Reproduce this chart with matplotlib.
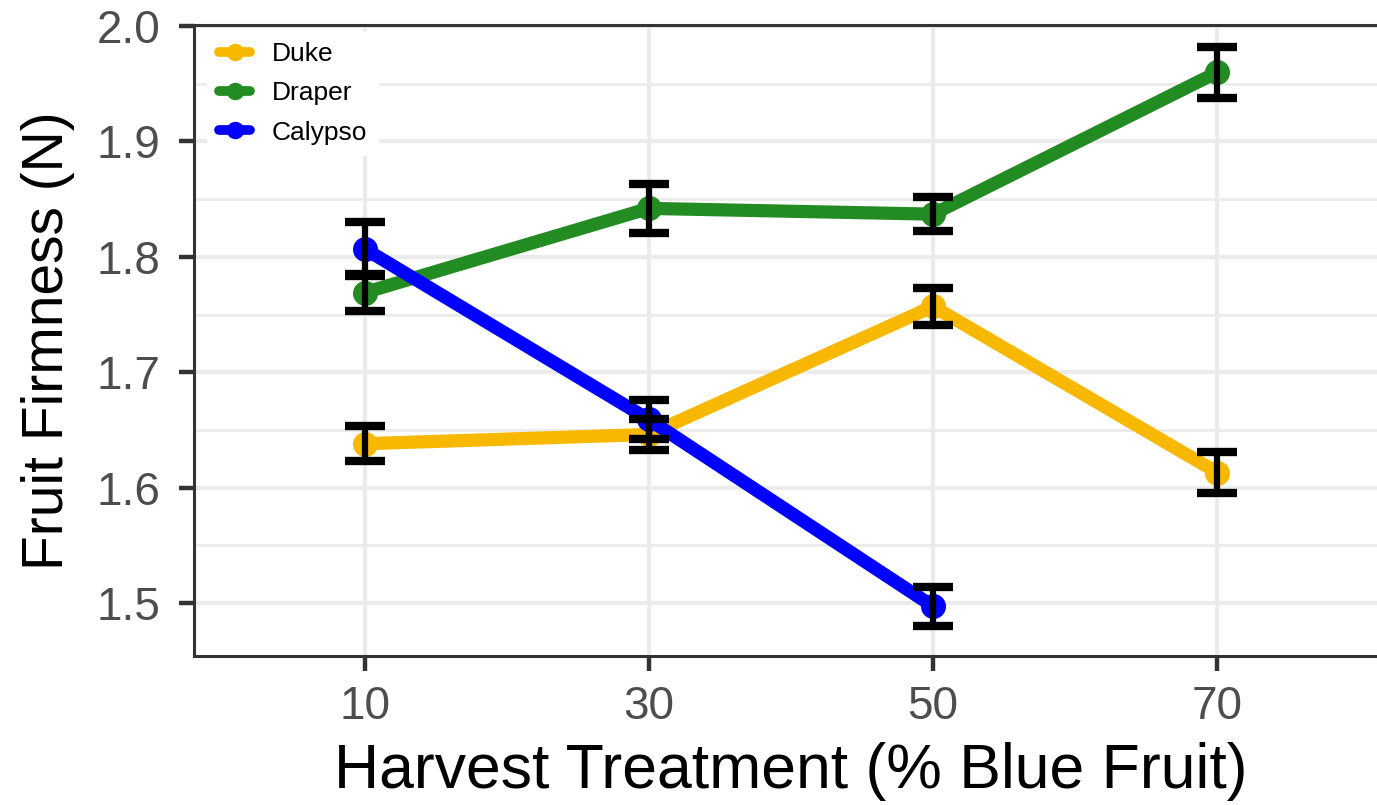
import matplotlib
matplotlib.use("Agg")
import matplotlib.pyplot as plt
from matplotlib.ticker import MultipleLocator

plt.rcParams["font.family"] = ["Liberation Sans", "DejaVu Sans"]

# datos
tratamientos = [10, 30, 50, 70]
variedades = ["Duke", "Draper", "Calypso"]
colores = ["#F9B800", "#228B22", "#0000FF"]

duke_media = [1.638, 1.646, 1.757, 1.613]
duke_err = [0.015, 0.0135, 0.016, 0.018]

draper_media = [1.769, 1.842, 1.837, 1.960]
draper_err = [0.016, 0.021, 0.015, 0.022]

calypso_x = [10, 30, 50]
calypso_media = [1.807, 1.659, 1.497]
calypso_err = [0.0235, 0.017, 0.017]

series = [
    (tratamientos, duke_media, duke_err),
    (tratamientos, draper_media, draper_err),
    (calypso_x, calypso_media, calypso_err),
]

fig = plt.figure(figsize=(13.77, 8.05), dpi=100)
ax = fig.add_axes([0.1409, 0.1851, 0.867, 0.7839])

# lineas
for nombre, color, (x, y, e) in zip(variedades, colores, series):
    ax.plot(x, y, color=color, lw=9.5, marker="o", ms=17,
            solid_capstyle="round", label=nombre, zorder=3)

# barras de error encima
for x, y, e in series:
    ax.errorbar(x, y, yerr=e, fmt="none", ecolor="black", elinewidth=4.5,
                capsize=14.5, capthick=6, zorder=4)

ax.set_xlim(-2, 82)
ax.set_ylim(1.454, 2.001)
ax.set_xticks(tratamientos)
ax.yaxis.set_major_locator(MultipleLocator(0.1))
ax.yaxis.set_minor_locator(MultipleLocator(0.05))
ax.set_yticklabels([f"{v:.1f}" for v in ax.get_yticks()])

ax.grid(which="major", color="#EBEBEB", lw=3)
ax.grid(which="minor", axis="y", color="#EBEBEB", lw=2)
ax.set_axisbelow(True)
ax.tick_params(which="minor", length=0)
ax.tick_params(which="major", length=11, width=3.2, color="#333333",
               labelsize=33, labelcolor="#4D4D4D")
ax.tick_params(axis="x", pad=10)
ax.tick_params(axis="y", pad=13)

for s in ax.spines.values():
    s.set_color("#333333")
    s.set_linewidth(2.2)

ax.set_xlabel("Harvest Treatment (% Blue Fruit)", fontsize=45, labelpad=9)
ax.set_ylabel("Fruit Firmness (N)", fontsize=41, labelpad=16)

leg = ax.legend(loc="upper left", bbox_to_anchor=(0.0, 1.012), fontsize=19,
                frameon=True, framealpha=1, edgecolor="white",
                handlelength=1.17, handletextpad=0.83, labelspacing=0.57,
                borderaxespad=0.5, borderpad=0.45, markerscale=0.68)
for h in leg.get_lines():
    h.set_linewidth(7)
leg.get_frame().set_linewidth(0)

fig.savefig("out.png", dpi=100)
